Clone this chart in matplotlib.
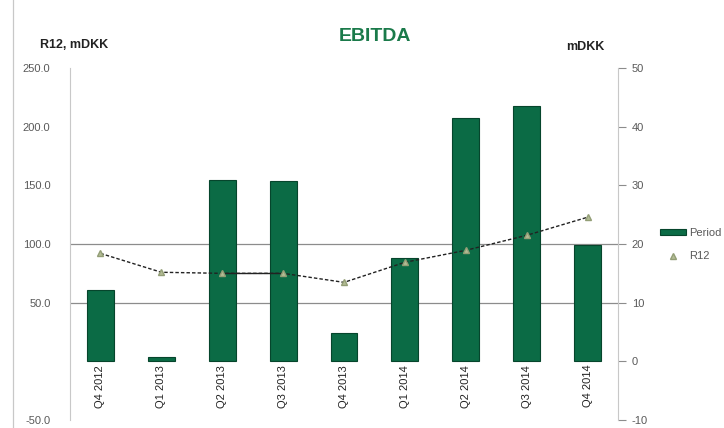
import matplotlib
matplotlib.use("Agg")
from matplotlib import pyplot as plt
from matplotlib.lines import Line2D
import numpy as np

# data
quarters = ['Q4 2012', 'Q1 2013', 'Q2 2013', 'Q3 2013', 'Q4 2013',
            'Q1 2014', 'Q2 2014', 'Q3 2014', 'Q4 2014']
period = [12.1, 0.7, 30.9, 30.7, 4.8, 17.6, 41.4, 43.6, 19.9]   # right axis
r12 = [92.0, 75.9, 75.0, 75.0, 67.3, 84.4, 94.6, 107.4, 122.8]  # left axis

left_ticks = [250, 200, 150, 100, 50, -50]
left_labels = ['250.0', '200.0', '150.0', '100.0', '50.0', '-50.0']
right_ticks = [50, 40, 30, 20, 10, 0, -10]
right_labels = ['50', '40', '30', '20', '10', '0', '-10']

green = '#0b6b45'
grey = '#595959'

plt.rcParams['font.family'] = ['Liberation Sans', 'DejaVu Sans']

fig = plt.figure(figsize=(7.24, 4.28), dpi=100)
ax = fig.add_axes([70/724, 8/428, 548/724, 352/428])
ax2 = ax.twinx()

x = np.arange(len(quarters))

# left axis: R12
ax.set_xlim(-0.5, len(quarters) - 0.5)
ax.set_ylim(-50, 250)
ax.axhline(100, color='#8c8c8c', lw=0.9, zorder=0)
ax.axhline(50, color='#8c8c8c', lw=0.9, zorder=0)

# right axis: period bars
ax2.set_ylim(-10, 50)
ax2.bar(x, period, width=0.44, color=green, edgecolor='#06452c', lw=0.8,
        label='Period', zorder=2)

# R12 line drawn on top of the bars
ax3 = ax.twinx()
ax3.set_ylim(-50, 250)
ax3.axis('off')
ax3.plot(x, r12, color='#222222', lw=1.0, ls=(0, (2.5, 1.5)), zorder=3)
ax3.plot(x[2:4], r12[2:4], color='#222222', lw=1.0, zorder=3)
ax3.plot(x, r12, ls='none', marker='^', ms=4.5, color='#b3bc95',
         markeredgecolor='#939e76', label='R12', zorder=4)

for i, q in enumerate(quarters):
    ax3.text(i, -3, q, rotation=90, ha='center', va='top', fontsize=8,
             color='#222222')

ax.set_xticks([])
ax.set_yticks(left_ticks)
ax.set_yticklabels(left_labels, fontsize=8, color=grey)
ax.tick_params(axis='y', length=0, pad=14)
ax2.set_yticks(right_ticks)
ax2.set_yticklabels(right_labels, fontsize=8, color=grey)
ax2.tick_params(axis='y', length=6, color='#8c8c8c', pad=4)

for a in (ax, ax2):
    a.spines['top'].set_visible(False)
    a.spines['bottom'].set_visible(False)
ax.spines['left'].set_color('#c8c8c8')
ax.spines['right'].set_visible(False)
ax2.spines['left'].set_visible(False)
ax2.spines['right'].set_color('#c8c8c8')

fig.text(0.518, 0.915, 'EBITDA', ha='center', va='center', fontsize=14,
         fontweight='bold', color='#1a7a4a')
fig.text(0.055, 0.895, 'R12, mDKK', ha='left', va='center', fontsize=9,
         fontweight='bold', color='#222222')
fig.text(0.782, 0.89, 'mDKK', ha='left', va='center', fontsize=9,
         fontweight='bold', color='#222222')

# chart frame edge on the left
fig.add_artist(Line2D([13/724, 13/724], [0, 1], color='#c8c8c8', lw=0.9))

h2, l2 = ax2.get_legend_handles_labels()
h3, l3 = ax3.get_legend_handles_labels()
fig.legend(h2 + h3, l2 + l3, loc='upper left', bbox_to_anchor=(0.912, 0.467),
           borderaxespad=0, borderpad=0, frameon=False, fontsize=8,
           labelcolor=grey, handlelength=2.3, handleheight=0.5,
           handletextpad=0.3, labelspacing=1.2)

fig.savefig('out.png', dpi=100)
